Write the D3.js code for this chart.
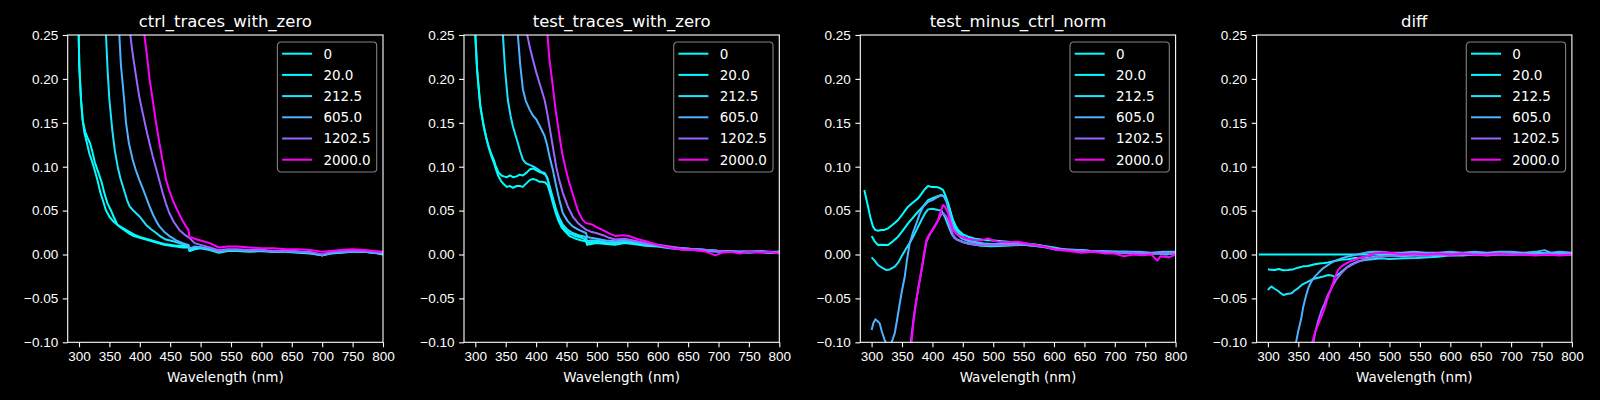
<!DOCTYPE html>
<html>
<head>
<meta charset="utf-8">
<script src="https://cdn.jsdelivr.net/npm/d3@7"></script>
<style>
    body { margin: 0; background: #000; }
    svg { display: block; font-family: "DejaVu Sans", sans-serif; }
    .tick text { fill: #fff; font-size: 13.5px; }
    .domain, .tick line { stroke: #fff; }
</style>
</head>
<body>
<svg id="chart"></svg>
<script>
// legend labels / series keys
const seriesLabels = ["0", "20.0", "212.5", "605.0", "1202.5", "2000.0"];
const seriesValues = [0, 20, 212.5, 605, 1202.5, 2000];
const panelTitles = ["ctrl_traces_with_zero", "test_traces_with_zero", "test_minus_ctrl_norm", "diff"];
const xTicks = [300, 350, 400, 450, 500, 550, 600, 650, 700, 750, 800];
const yTicks = [-0.10, -0.05, 0.00, 0.05, 0.10, 0.15, 0.20, 0.25];

// ctrl_traces_with_zero  [wavelength, value]
const ctrl0 = [[298,0.30],[299.5,0.25],[300.5,0.214],[303.3,0.176],[306,0.153],[310,0.14],[314,0.133],[318,0.127],[322,0.117],[326,0.105],[330,0.097],[334,0.089],[337.5,0.0815],[342,0.069],[347,0.058],[352,0.051],[357,0.043],[363,0.034],[370,0.031],[380,0.027],[390,0.023],[400,0.020],[410,0.018],[420,0.016],[430,0.014],[440,0.012],[450,0.011],[460,0.010],[470,0.010],[480,0.009],[482,0.004],[490,0.007],[500,0.008],[515,0.006],[530,0.003],[545,0.005],[560,0.005],[580,0.004],[600,0.005],[620,0.003],[640,0.004],[660,0.003],[680,0.002],[700,-0.001],[715,0.002],[730,0.003],[750,0.004],[770,0.003],[785,0.002],[800,0.001]];
const ctrl20 = [[298,0.30],[299.5,0.25],[300.5,0.214],[303.3,0.176],[306,0.153],[309,0.138],[313,0.127],[317,0.115],[321,0.107],[325,0.098],[329,0.088],[331.5,0.0815],[335,0.071],[340,0.06],[344,0.051],[350,0.043],[356,0.038],[363,0.034],[370,0.030],[380,0.025],[390,0.021],[400,0.019],[410,0.017],[420,0.015],[430,0.013],[440,0.011],[450,0.010],[460,0.009],[470,0.008],[480,0.008],[482,0.004],[490,0.006],[500,0.007],[515,0.005],[530,0.002],[545,0.004],[560,0.004],[580,0.003],[600,0.004],[620,0.003],[640,0.003],[660,0.002],[680,0.001],[700,-0.001],[715,0.001],[730,0.002],[750,0.003],[770,0.003],[785,0.002],[800,0.000]];
const ctrl212 = [[340,0.32],[344.4,0.25],[347,0.21],[350,0.176],[355,0.14],[359,0.118],[363.6,0.10],[368,0.087],[374.6,0.072],[379,0.062],[383,0.055],[388,0.051],[394,0.047],[400,0.043],[410,0.034],[418,0.029],[427,0.0245],[435,0.02],[443,0.017],[455,0.015],[465,0.013],[475,0.011],[480,0.010],[482,0.005],[490,0.008],[500,0.008],[515,0.006],[530,0.003],[545,0.005],[560,0.004],[580,0.004],[600,0.004],[620,0.003],[640,0.004],[660,0.003],[680,0.002],[700,-0.001],[715,0.002],[730,0.002],[750,0.004],[770,0.003],[785,0.002],[800,0.001]];
const ctrl605 = [[362,0.32],[366.3,0.25],[369,0.215],[371.8,0.195],[375,0.17],[377.3,0.15],[382,0.127],[388.3,0.108],[393,0.097],[399.2,0.085],[405,0.075],[410,0.066],[415.8,0.055],[422,0.045],[427,0.038],[432.2,0.032],[440,0.026],[448.7,0.021],[460,0.016],[470.6,0.013],[480,0.011],[482,0.007],[490,0.009],[500,0.008],[515,0.006],[530,0.003],[545,0.005],[560,0.005],[580,0.004],[600,0.005],[620,0.003],[640,0.004],[660,0.003],[680,0.002],[700,-0.001],[715,0.002],[730,0.003],[750,0.004],[770,0.003],[785,0.002],[800,0.001]];
const ctrl1202 = [[380,0.32],[384.4,0.25],[388,0.23],[393.8,0.203],[399,0.18],[404.8,0.161],[412,0.138],[421.2,0.112],[430,0.09],[437.7,0.070],[443,0.058],[448.7,0.047],[456,0.037],[465,0.028],[473,0.023],[481.6,0.019],[490,0.013],[500,0.011],[515,0.008],[530,0.005],[545,0.006],[560,0.006],[580,0.005],[600,0.005],[620,0.004],[640,0.004],[660,0.003],[680,0.003],[700,0.000],[715,0.003],[730,0.003],[750,0.004],[770,0.004],[785,0.003],[800,0.002]];
const ctrl2000 = [[403,0.32],[407.5,0.25],[412,0.225],[416,0.2],[421.2,0.176],[426,0.153],[432.2,0.127],[438,0.105],[443.2,0.085],[448,0.074],[454.2,0.062],[460,0.053],[465.2,0.0454],[470,0.039],[476,0.032],[480,0.028],[481.6,0.02],[487,0.019],[490,0.018],[500,0.016],[515,0.013],[530,0.008],[545,0.009],[560,0.009],[580,0.008],[600,0.007],[620,0.007],[640,0.006],[660,0.006],[680,0.005],[700,0.003],[715,0.004],[730,0.005],[750,0.006],[770,0.005],[785,0.004],[800,0.003]];

// test_traces_with_zero
const test0 = [[298,0.30],[300,0.25],[303,0.21],[308.2,0.169],[313.8,0.146],[318,0.133],[322,0.123],[326,0.115],[330.2,0.108],[334,0.100],[338.4,0.093],[343,0.090],[347,0.089],[352,0.088],[357,0.090],[362,0.088],[368,0.089],[373,0.091],[378,0.090],[384,0.093],[390,0.097],[395,0.098],[400,0.096],[405,0.094],[410,0.093],[415,0.091],[419,0.086],[423,0.075],[427,0.063],[432,0.052],[437,0.040],[442,0.034],[448,0.028],[455,0.024],[465,0.021],[475,0.019],[482,0.017],[484,0.013],[490,0.014],[500,0.015],[515,0.013],[530,0.013],[545,0.014],[560,0.014],[580,0.011],[600,0.010],[620,0.008],[640,0.006],[660,0.006],[680,0.005],[700,0.004],[715,0.004],[730,0.003],[750,0.003],[770,0.003],[785,0.002],[800,0.003]];
const test20 = [[298,0.30],[300,0.25],[303,0.21],[308.2,0.169],[313.8,0.146],[318,0.133],[322,0.122],[326,0.113],[330.2,0.105],[334,0.097],[338,0.089],[343,0.083],[347,0.080],[352,0.077],[357,0.078],[362,0.076],[368,0.078],[373,0.078],[378,0.077],[384,0.081],[390,0.085],[395,0.086],[400,0.085],[405,0.083],[410,0.083],[415,0.082],[419,0.079],[423,0.070],[427,0.060],[432,0.048],[437,0.038],[442,0.031],[448,0.026],[455,0.021],[465,0.018],[475,0.016],[482,0.015],[484,0.011],[490,0.012],[500,0.013],[515,0.012],[530,0.011],[545,0.013],[560,0.012],[580,0.010],[600,0.009],[620,0.007],[640,0.006],[660,0.005],[680,0.004],[700,0.003],[715,0.003],[730,0.003],[750,0.002],[770,0.003],[785,0.002],[800,0.002]];
const test212 = [[341,0.32],[345.4,0.25],[349,0.21],[353.5,0.176],[358,0.158],[361.8,0.146],[366,0.136],[370,0.127],[374,0.117],[378.3,0.108],[383,0.104],[389.3,0.102],[396,0.100],[403,0.097],[409,0.094],[414,0.093],[418,0.088],[422,0.078],[427,0.066],[433,0.051],[438,0.042],[444,0.034],[452,0.028],[460,0.0245],[470,0.022],[482,0.020],[484,0.015],[490,0.016],[500,0.016],[515,0.014],[530,0.013],[545,0.015],[560,0.014],[580,0.011],[600,0.010],[620,0.008],[640,0.007],[660,0.006],[680,0.005],[700,0.004],[715,0.003],[730,0.003],[750,0.003],[770,0.003],[785,0.002],[800,0.003]];
const test605 = [[366,0.32],[370,0.25],[374,0.215],[378.3,0.188],[383,0.175],[389.3,0.165],[395,0.158],[400.2,0.154],[407,0.145],[414,0.135],[418,0.125],[422,0.112],[428,0.095],[433,0.078],[438,0.063],[444,0.047],[452,0.038],[460,0.032],[470,0.028],[482,0.0245],[484,0.020],[490,0.019],[500,0.018],[515,0.016],[530,0.015],[545,0.016],[560,0.015],[580,0.012],[600,0.010],[620,0.008],[640,0.007],[660,0.006],[680,0.005],[700,0.004],[715,0.004],[730,0.003],[750,0.003],[770,0.004],[785,0.003],[800,0.003]];
const test1202 = [[382,0.32],[385.4,0.25],[390,0.235],[394.7,0.222],[400,0.208],[405.7,0.195],[410,0.185],[414,0.176],[418,0.162],[422,0.146],[427,0.125],[433,0.100],[438,0.085],[444,0.070],[452,0.055],[460,0.0435],[470,0.035],[482,0.0283],[490,0.026],[498.6,0.0245],[510,0.022],[520,0.019],[530,0.017],[545,0.018],[560,0.016],[580,0.013],[600,0.011],[620,0.009],[640,0.007],[660,0.006],[680,0.005],[700,0.004],[715,0.003],[730,0.003],[750,0.003],[770,0.003],[785,0.002],[800,0.003]];
const test2000 = [[415,0.32],[418.6,0.25],[422,0.222],[426.9,0.195],[432,0.165],[437.8,0.138],[443,0.115],[448.8,0.097],[454,0.083],[459.8,0.070],[465,0.058],[470.7,0.047],[476,0.040],[481.7,0.036],[487,0.035],[492.7,0.034],[500,0.031],[509,0.028],[520,0.024],[531,0.021],[542,0.022],[553,0.021],[565,0.018],[580.5,0.015],[595,0.012],[608,0.0093],[625,0.007],[641,0.0055],[660,0.005],[680,0.003],[695,-0.001],[705,0.002],[720,0.003],[735,0.001],[750,0.003],[770,0.002],[785,0.003],[800,0.001]];

// test_minus_ctrl_norm
const norm0 = [[288,0.0734],[291,0.064],[294.2,0.0544],[298,0.042],[302.3,0.0317],[306,0.028],[310.5,0.027],[316,0.028],[321,0.028],[327,0.0298],[333,0.033],[338,0.036],[343.5,0.0393],[350,0.045],[355,0.050],[360,0.0544],[366,0.058],[371,0.061],[376.4,0.0639],[382,0.069],[387,0.074],[392.9,0.078],[398,0.077],[404,0.077],[409.3,0.0765],[414,0.075],[417.6,0.0734],[421,0.068],[425.8,0.0582],[430,0.048],[434,0.039],[438,0.033],[442.3,0.0279],[450,0.023],[458.8,0.0203],[470,0.018],[486,0.0165],[500,0.016],[524,0.0146],[545,0.013],[574,0.0108],[590,0.008],[607,0.005],[630,0.005],[650,0.004],[680,0.003],[700,0.002],[720,0.002],[745,0.001],[770,0.001],[785,0.000],[800,0.002]];
const norm20 = [[300,0.021],[305,0.015],[310.5,0.0108],[318,0.011],[327,0.0108],[335,0.015],[343.5,0.0203],[350,0.026],[360,0.0355],[368,0.042],[376.4,0.0487],[385,0.055],[392.9,0.062],[400,0.064],[408,0.066],[414.9,0.0677],[420,0.066],[425.8,0.0582],[431,0.045],[436.8,0.0317],[444,0.024],[453.3,0.0184],[465,0.015],[486,0.012],[510,0.012],[540,0.012],[570,0.011],[600,0.008],[620,0.005],[640,0.005],[660,0.004],[680,0.003],[700,0.003],[720,0.003],[740,0.002],[760,0.001],[780,0.002],[800,0.002]];
const norm212 = [[300,-0.0033],[305,-0.007],[310.5,-0.012],[317,-0.015],[324.3,-0.0177],[330,-0.017],[338,-0.0139],[344,-0.009],[349,-0.0025],[357,0.007],[365.5,0.0165],[374,0.028],[382,0.0393],[388,0.047],[392.9,0.0514],[400,0.052],[409.3,0.0506],[415,0.050],[420.3,0.043],[425,0.035],[431.3,0.024],[436,0.019],[442.3,0.0165],[452,0.014],[464,0.012],[480,0.010],[497,0.0095],[520,0.010],[550,0.011],[580,0.009],[600,0.007],[620,0.005],[640,0.005],[660,0.004],[680,0.003],[700,0.003],[720,0.002],[740,0.002],[760,0.001],[780,0.002],[800,0.001]];
const norm605 = [[300,-0.086],[303,-0.078],[306.2,-0.0739],[310,-0.076],[313.3,-0.0785],[317,-0.088],[321.5,-0.0974],[326,-0.104],[331,-0.103],[335,-0.096],[338,-0.0898],[342,-0.074],[346.3,-0.0557],[350,-0.041],[354.5,-0.0253],[358,-0.007],[362.7,0.0127],[368,0.025],[373.7,0.0355],[379,0.046],[384.7,0.0544],[392.9,0.060],[400,0.062],[409.3,0.0658],[414.9,0.0677],[419,0.066],[423,0.060],[428,0.047],[434,0.0317],[440,0.024],[447.8,0.0184],[460,0.015],[475,0.0127],[500,0.012],[524,0.0108],[550,0.011],[580,0.0089],[600,0.007],[620,0.006],[640,0.005],[660,0.004],[680,0.004],[700,0.003],[720,0.003],[740,0.003],[760,0.002],[780,0.003],[800,0.003]];
const norm1202 = [[364,-0.104],[366,-0.09],[370,-0.068],[374,-0.05],[378,-0.034],[382,-0.019],[386,-0.002],[390,0.014],[395,0.022],[400,0.028],[405,0.034],[409.3,0.039],[414,0.045],[418,0.047],[422,0.044],[425.8,0.039],[430,0.030],[434,0.0222],[440,0.017],[447.8,0.0146],[460,0.012],[475,0.0108],[500,0.011],[520,0.011],[550,0.012],[580,0.009],[600,0.006],[620,0.005],[640,0.004],[660,0.004],[680,0.003],[700,0.002],[720,0.002],[740,0.001],[760,0.001],[780,0.001],[800,0.001]];
const norm2000 = [[364,-0.104],[365.5,-0.1012],[369,-0.075],[373.7,-0.052],[378,-0.033],[382,-0.0177],[386,0.000],[390.2,0.0165],[394,0.022],[398.5,0.026],[404,0.032],[409.3,0.039],[413,0.048],[417.6,0.0563],[421,0.054],[425.8,0.0468],[430,0.036],[434,0.0279],[440,0.023],[447.8,0.0203],[458,0.018],[469.7,0.0165],[480,0.016],[491.6,0.0184],[500,0.016],[508,0.0146],[520,0.014],[541,0.0146],[560,0.012],[585,0.0089],[607,0.005],[625,0.004],[645,0.002],[665,0.003],[685,0.001],[700,0.001],[715,-0.002],[730,0.000],[745,-0.001],[760,0.000],[770,-0.007],[775,-0.002],[790,-0.003],[800,0.000]];

// diff
const diff0 = [[285,0.0],[800,0.0]];
const diff20 = [[300,-0.0169],[305,-0.0175],[311,-0.0177],[318,-0.0165],[325,-0.018],[333,-0.0177],[340,-0.0172],[349.5,-0.015],[358,-0.0135],[366,-0.013],[377,-0.011],[388,-0.0101],[399,-0.009],[410,-0.0074],[420,-0.006],[431.7,-0.0055],[443,-0.004],[453.7,-0.0036],[470,-0.003],[486.6,-0.0017],[500,-0.001],[520,-0.002],[540,-0.001],[560,-0.001],[580,0.000],[600,0.000],[620,0.001],[640,0.001],[660,0.000],[680,0.001],[700,0.001],[720,0.001],[740,0.002],[760,0.001],[780,0.002],[800,0.001]];
const diff212 = [[300,-0.0404],[303,-0.038],[306,-0.0366],[311,-0.039],[317,-0.0416],[321,-0.044],[325.3,-0.0461],[331,-0.045],[339,-0.0442],[344,-0.041],[349.5,-0.0385],[357,-0.034],[366,-0.0309],[374,-0.028],[382.9,-0.0264],[391,-0.025],[399.3,-0.0234],[405,-0.024],[410,-0.0253],[415,-0.023],[421,-0.0196],[429,-0.015],[437.3,-0.0112],[448,-0.008],[459.3,-0.0063],[475,-0.005],[486.6,-0.0044],[500,-0.005],[525,-0.0044],[545,-0.004],[565,-0.003],[580,-0.0025],[600,-0.001],[620,-0.001],[640,0.000],[660,0.000],[680,0.001],[700,0.000],[720,0.001],[740,0.001],[760,0.001],[780,0.002],[800,0.001]];
const diff605 = [[344,-0.11],[346.6,-0.099],[350,-0.087],[354.9,-0.0727],[358,-0.06],[363,-0.0461],[367,-0.037],[371.3,-0.0309],[376,-0.026],[382.3,-0.0215],[390,-0.016],[398.8,-0.012],[408,-0.008],[420.7,-0.0044],[430,-0.0025],[442.7,-0.0006],[453,0.001],[464.7,0.0025],[475,0.003],[486.6,0.003],[500,0.002],[520,0.002],[540,0.003],[560,0.002],[580,0.002],[600,0.003],[620,0.002],[640,0.003],[660,0.002],[680,0.003],[700,0.003],[720,0.002],[740,0.003],[755,0.005],[765,0.002],[780,0.003],[800,0.002]];
const diff1202 = [[372,-0.11],[374.7,-0.10],[378,-0.088],[382.3,-0.0765],[388,-0.064],[393.3,-0.0556],[398,-0.047],[404.3,-0.0385],[412,-0.029],[420.7,-0.0215],[430,-0.015],[442.7,-0.0101],[453,-0.007],[464.7,-0.0044],[480,-0.0025],[497.6,-0.0014],[520,-0.001],[540,-0.001],[560,-0.001],[580,0.000],[600,-0.001],[620,0.000],[640,0.000],[660,-0.001],[680,0.000],[700,0.000],[720,0.000],[740,0.000],[760,0.000],[780,0.000],[800,0.000]];
const diff2000 = [[371,-0.11],[373,-0.10],[377,-0.09],[382.3,-0.0803],[388,-0.071],[393.3,-0.0613],[398,-0.05],[404.3,-0.0385],[410,-0.026],[415.3,-0.0177],[420,-0.014],[426.3,-0.0112],[434,-0.008],[442.7,-0.0063],[450,-0.004],[459.2,-0.0025],[470,0.000],[486.6,0.0025],[495,0.002],[508.6,0.0013],[520,0.000],[540,0.001],[560,0.000],[580,0.001],[600,0.000],[620,0.001],[640,0.000],[660,0.000],[680,0.001],[700,0.000],[720,0.000],[740,-0.001],[760,0.000],[780,-0.001],[800,0.000]];

const panelSeries = [
    [ctrl0, ctrl20, ctrl212, ctrl605, ctrl1202, ctrl2000],
    [test0, test20, test212, test605, test1202, test2000],
    [norm0, norm20, norm212, norm605, norm1202, norm2000],
    [diff0, diff20, diff212, diff605, diff1202, diff2000]
];

class SpectraPanel {
    constructor(_config) {
        this.config = {
            parentElement: _config.parentElement,
            left: _config.left,
            top: _config.top || 35,
            width: _config.width || 315.3,
            height: _config.height || 307.3,
            title: _config.title,
            series: _config.series,
            idx: _config.idx
        }
        this.initVis();
    }

    initVis() {
        let vis = this;
        let cfg = vis.config;

        vis.chart = cfg.parentElement.append('g')
            .attr('transform', `translate(${cfg.left},${cfg.top})`);

        vis.xScale = d3.scaleLinear().domain([281.4, 800]).range([0, cfg.width]);
        vis.yScale = d3.scaleLinear().domain([-0.10, 0.25]).range([cfg.height, 0]);
        vis.color = d3.scaleLinear().domain([0, 2000]).range(["#00ffff", "#ff00ff"]);

        vis.chart.append('clipPath').attr('id', `clip${cfg.idx}`)
            .append('rect').attr('width', cfg.width).attr('height', cfg.height);

        vis.line = d3.line()
            .x(d => vis.xScale(d[0]))
            .y(d => vis.yScale(d[1]));

        vis.chart.append('g').attr('clip-path', `url(#clip${cfg.idx})`)
            .selectAll('path').data(cfg.series).enter().append('path')
            .attr('d', d => vis.line(d))
            .attr('fill', 'none')
            .attr('stroke', (d, i) => vis.color(seriesValues[i]))
            .attr('stroke-width', 2)
            .attr('stroke-linejoin', 'round');

        let xAxis = d3.axisBottom(vis.xScale).tickValues(xTicks).tickSize(4.9).tickPadding(4.6).tickFormat(d3.format('d'));
        let yAxis = d3.axisLeft(vis.yScale).tickValues(yTicks).tickSize(4.9).tickPadding(4.6)
            .tickFormat(d => d3.format('.2f')(d).replace('-', '\u2212'));

        vis.chart.append('g').attr('transform', `translate(0,${cfg.height})`).call(xAxis)
            .call(g => g.select('.domain').remove());
        vis.chart.append('g').call(yAxis)
            .call(g => g.select('.domain').remove());
        vis.chart.selectAll('.tick line').attr('stroke-width', 1.1);

        // frame
        vis.chart.append('rect')
            .attr('width', cfg.width).attr('height', cfg.height)
            .attr('fill', 'none').attr('stroke', '#fff').attr('stroke-width', 1.1);

        vis.chart.append('text')
            .attr('x', cfg.width / 2).attr('y', -8.5)
            .attr('text-anchor', 'middle').attr('fill', '#fff')
            .style('font-size', '16.5px')
            .text(cfg.title);

        vis.chart.append('text')
            .attr('x', cfg.width / 2).attr('y', cfg.height + 39.3)
            .attr('text-anchor', 'middle').attr('fill', '#fff')
            .style('font-size', '13.5px')
            .text('Wavelength (nm)');

        // Legend
        let lx = cfg.width - 6.3 - 99.3;
        let legend = vis.chart.append('g').attr('transform', `translate(${lx},7)`);
        legend.append('rect')
            .attr('width', 99.3).attr('height', 130).attr('rx', 3.5)
            .attr('fill', '#000').attr('fill-opacity', 0.8)
            .attr('stroke', '#808080').attr('stroke-width', 1.1);
        let rows = legend.selectAll('.row').data(seriesLabels).enter().append('g')
            .attr('transform', (d, i) => `translate(0,${11.7 + i * 21.2})`);
        rows.append('line')
            .attr('x1', 4.7).attr('x2', 34.7)
            .attr('stroke', (d, i) => vis.color(seriesValues[i]))
            .attr('stroke-width', 2);
        rows.append('text')
            .attr('x', 46).attr('dy', '0.36em')
            .attr('fill', '#fff').style('font-size', '13.5px')
            .text(d => d);
    }
}

let svg = d3.select('#chart').attr('width', 1600).attr('height', 400);
svg.append('rect').attr('width', 1600).attr('height', 400).attr('fill', '#000');

panelTitles.forEach((t, i) => {
    new SpectraPanel({
        parentElement: svg,
        left: 67.7 + i * 396.3,
        title: t,
        series: panelSeries[i],
        idx: i
    });
});
</script>
</body>
</html>
